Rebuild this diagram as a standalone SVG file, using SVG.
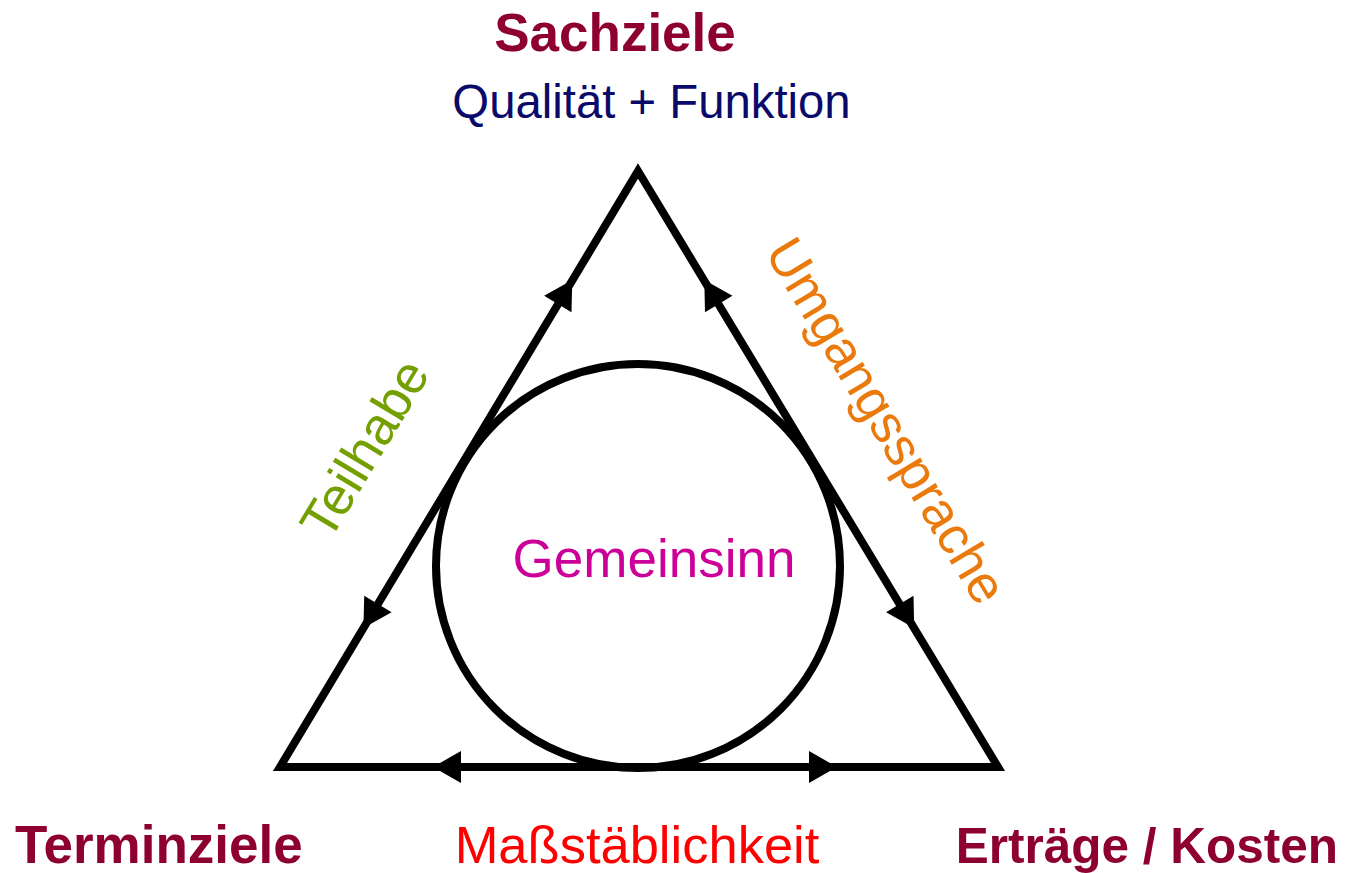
<svg xmlns="http://www.w3.org/2000/svg" width="1345" height="873" viewBox="0 0 1345 873">
<style>
.t{font-family:"Liberation Sans",Arial,sans-serif}
.b{font-weight:bold;fill:#8E0030}
.edge{fill:none;stroke:#000;stroke-width:8;stroke-linejoin:miter;stroke-miterlimit:10}
.ah{stroke:none;fill:none}
</style>
<defs>
<marker id="arr" markerUnits="userSpaceOnUse" markerWidth="30" markerHeight="34" viewBox="0 -17 29 34" refX="28" refY="0" orient="auto">
<path d="M0,-16 L28,0 L0,16 z" fill="#000"/>
</marker>
</defs>
<rect width="1345" height="873" fill="#fff"/>
<g id="connectors">
<polygon class="edge" points="638,171 998,767 280,767"/>
<line class="ah" x1="562" y1="297" x2="572.3" y2="280" stroke="#000" marker-end="url(#arr)"/>
<line class="ah" x1="373.7" y1="611" x2="363.4" y2="628" stroke="#000" marker-end="url(#arr)"/>
<line class="ah" x1="714.5" y1="297" x2="704.3" y2="280" stroke="#000" marker-end="url(#arr)"/>
<line class="ah" x1="904" y1="611" x2="914.2" y2="628" stroke="#000" marker-end="url(#arr)"/>
<line class="ah" x1="453" y1="767" x2="433" y2="767" stroke="#000" marker-end="url(#arr)"/>
<line class="ah" x1="817" y1="767" x2="837" y2="767" stroke="#000" marker-end="url(#arr)"/>
</g>
<g id="gemeinsinn">
<circle cx="638" cy="566" r="202" fill="none" stroke="#000" stroke-width="8"/>
<text class="t" x="654" y="577" font-size="53" fill="#CC0099" text-anchor="middle">Gemeinsinn</text>
</g>
<g id="sachziele">
<text class="t b" x="615" y="51" font-size="53" text-anchor="middle">Sachziele</text>
<text class="t" x="651.5" y="118" font-size="47.3" fill="#0A0A6A" text-anchor="middle">Qualität + Funktion</text>
</g>
<g id="terminziele">
<text class="t b" x="15" y="863" font-size="53">Terminziele</text>
</g>
<g id="ertraege">
<text class="t b" x="1338" y="863" font-size="49.5" text-anchor="end">Erträge / Kosten</text>
</g>
<g id="massstaeblichkeit">
<text class="t" x="637" y="863" font-size="52.5" fill="#FF0000" text-anchor="middle">Maßstäblichkeit</text>
</g>
<g id="teilhabe">
<text class="t" transform="translate(380,458) rotate(-59)" font-size="53" fill="#73A000" text-anchor="middle">Teilhabe</text>
</g>
<g id="umgangssprache">
<text class="t" transform="translate(871,430) rotate(59)" font-size="53" fill="#EA7A0C" text-anchor="middle">Umgangssprache</text>
</g>
</svg>
